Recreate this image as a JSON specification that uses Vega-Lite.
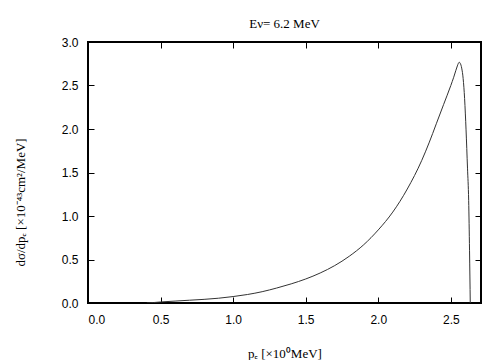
{
  "$schema": "https://vega.github.io/schema/vega-lite/v6.json",
  "autosize": "none",
  "width": 393,
  "height": 261,
  "padding": {"left": 88, "top": 42, "right": 23, "bottom": 57},
  "background": "white",
  "config": {
    "view": {"stroke": "#000", "strokeWidth": 2},
    "axis": {
      "domain": false,
      "grid": false,
      "tickColor": "#000",
      "tickSize": 6,
      "tickWidth": 1,
      "labelFont": "Liberation Sans",
      "labelFontSize": 12,
      "labelColor": "#000",
      "titleFont": "Liberation Serif",
      "titleFontSize": 13,
      "titleFontWeight": "normal",
      "titleColor": "#000"
    },
    "title": {"font": "Liberation Serif", "fontSize": 13, "fontWeight": "normal", "color": "#000"}
  },
  "title": {"text": "Eν= 6.2 MeV", "offset": 5},
  "data": {
    "values": [
      {"pe": 0.405, "v": 0.0},
      {"pe": 0.45, "v": 0.005},
      {"pe": 0.5, "v": 0.012},
      {"pe": 0.6, "v": 0.022},
      {"pe": 0.7, "v": 0.032},
      {"pe": 0.8, "v": 0.042},
      {"pe": 0.9, "v": 0.055},
      {"pe": 1.0, "v": 0.074},
      {"pe": 1.1, "v": 0.098},
      {"pe": 1.2, "v": 0.13},
      {"pe": 1.3, "v": 0.172},
      {"pe": 1.4, "v": 0.22},
      {"pe": 1.5, "v": 0.276},
      {"pe": 1.6, "v": 0.345},
      {"pe": 1.7, "v": 0.43},
      {"pe": 1.8, "v": 0.537},
      {"pe": 1.9, "v": 0.67},
      {"pe": 2.0, "v": 0.84},
      {"pe": 2.1, "v": 1.045},
      {"pe": 2.2, "v": 1.31},
      {"pe": 2.3, "v": 1.64},
      {"pe": 2.35, "v": 1.84},
      {"pe": 2.4, "v": 2.06},
      {"pe": 2.45, "v": 2.28},
      {"pe": 2.5, "v": 2.5},
      {"pe": 2.52, "v": 2.595},
      {"pe": 2.535, "v": 2.675},
      {"pe": 2.545, "v": 2.725},
      {"pe": 2.552, "v": 2.755},
      {"pe": 2.558, "v": 2.767},
      {"pe": 2.565, "v": 2.755},
      {"pe": 2.575, "v": 2.7},
      {"pe": 2.585, "v": 2.58},
      {"pe": 2.595, "v": 2.35},
      {"pe": 2.605, "v": 1.99},
      {"pe": 2.615, "v": 1.55},
      {"pe": 2.623, "v": 1.18},
      {"pe": 2.629, "v": 0.6},
      {"pe": 2.634, "v": 0.0}
    ]
  },
  "layer": [
    {
      "mark": {"type": "line", "color": "#333", "strokeWidth": 1, "interpolate": "monotone", "clip": true},
      "encoding": {
        "x": {
          "field": "pe", "type": "quantitative",
          "scale": {"domain": [0, 2.708], "nice": false, "zero": false},
          "axis": {
            "orient": "bottom",
            "values": [0, 0.5, 1, 1.5, 2, 2.5], "format": ".1f",
            "ticks": false,
            "labelPadding": 11,
            "title": "pₑ [×10⁰MeV]",
            "titleBaseline": "alphabetic", "titleY": 54
          }
        },
        "y": {
          "field": "v", "type": "quantitative",
          "scale": {"domain": [0, 3], "nice": false},
          "axis": {
            "orient": "left",
            "values": [0, 0.5, 1, 1.5, 2, 2.5, 3], "format": ".1f",
            "ticks": false,
            "labelPadding": 10,
            "title": "dσ/dpₑ [×10⁻⁴³cm²/MeV]",
            "titleBaseline": "alphabetic", "titleX": -64, "titleY": 160
          }
        }
      }
    },
    {
      "mark": {"type": "line", "opacity": 0},
      "encoding": {
        "x": {
          "field": "pe", "type": "quantitative",
          "axis": {"orient": "top", "offset": -261, "values": [0.5, 1, 1.5, 2, 2.5], "labels": false, "title": null}
        },
        "y": {
          "field": "v", "type": "quantitative",
          "axis": {"orient": "right", "offset": -393, "values": [0.5, 1, 1.5, 2, 2.5], "labels": false, "title": null}
        }
      }
    },
    {
      "mark": {"type": "line", "opacity": 0},
      "encoding": {
        "x": {
          "field": "pe", "type": "quantitative",
          "axis": {"orient": "bottom", "offset": -261, "values": [0.5, 1, 1.5, 2, 2.5], "labels": false, "title": null}
        },
        "y": {
          "field": "v", "type": "quantitative",
          "axis": {"orient": "left", "offset": -393, "values": [0.5, 1, 1.5, 2, 2.5], "labels": false, "title": null}
        }
      }
    }
  ],
  "resolve": {"axis": {"x": "independent", "y": "independent"}}
}
